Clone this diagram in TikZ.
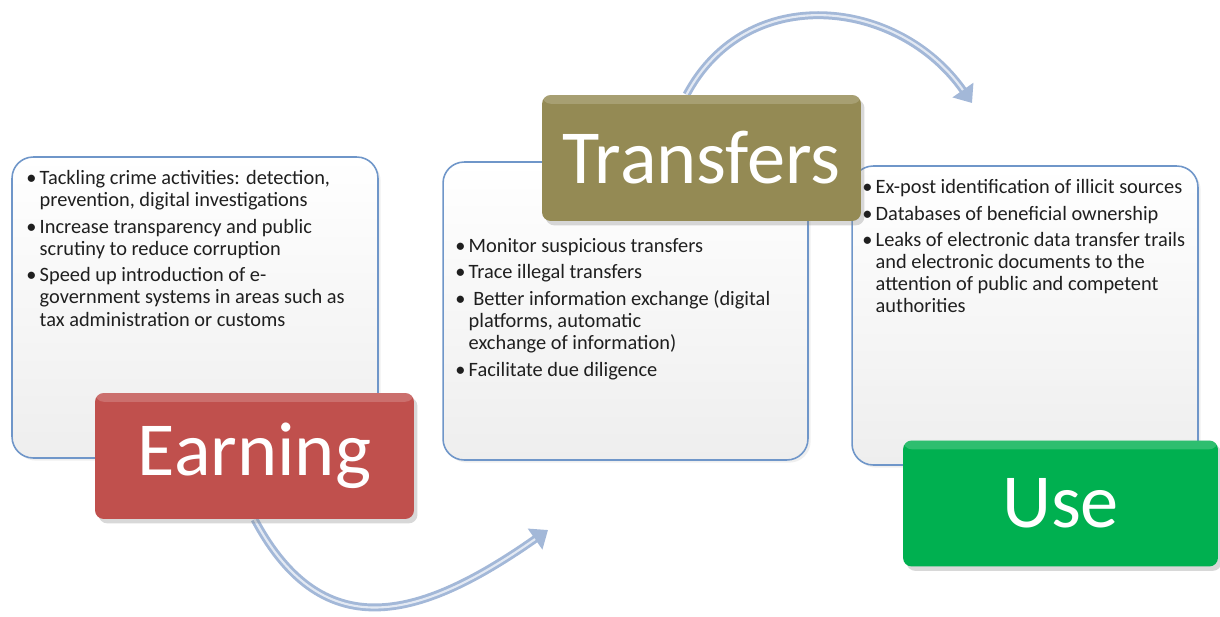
\documentclass[tikz,border=0pt]{standalone}
\usepackage{fontspec}
\setmainfont{Carlito}
\usetikzlibrary{positioning,arrows.meta,shadows,backgrounds}
\definecolor{earnFill}{HTML}{C0504D}
\definecolor{transFill}{HTML}{948A54}
\definecolor{useFill}{HTML}{00B050}
\definecolor{boxBorder}{HTML}{6F96C9}
\definecolor{boxShade}{HTML}{EEEEEE}
\definecolor{arrowBlue}{HTML}{A3B8D8}

% bullet and hanging indent for the point lists
\newcommand{\itm}{\makebox[7.6pt][l]{\textbullet}}
\newcommand{\cnt}{\hspace*{7.6pt}}

\begin{document}
\begin{tikzpicture}[
    x=0.02cm, y=0.02cm,
    infobox/.style={
        rectangle, draw=boxBorder, line width=0.9pt,
        rounded corners=12pt, top color=white, bottom color=boxShade,
        drop shadow={opacity=0.12, shadow xshift=1.5pt, shadow yshift=-1.5pt}
    },
    titlebox/.style={
        rectangle, rounded corners=5pt, text=white,
        minimum width=6.38cm, minimum height=2.52cm,
        font=\fontsize{43.5}{43.5}\selectfont,
        drop shadow={opacity=0.3, shadow xshift=2pt, shadow yshift=-2.5pt},
        path picture={\fill[white, opacity=0.18] (path picture bounding box.north west)
            rectangle ([yshift=-5pt]path picture bounding box.north east);}
    },
    points/.style={
        anchor=north west, inner sep=0pt, align=left,
        text=black!88, font=\fontsize{11.6}{12.6}\selectfont
    },
    loopArrow/.style={
        -{Triangle[length=9pt,width=14pt]}, line width=4.5pt, draw=arrowBlue,
        postaction={draw=white, draw opacity=0.7, line width=1.2pt, -, shorten >=9pt}
    }
]
  \useasboundingbox (0,0) rectangle (1220,-616);

  % Content boxes
  \node[infobox, minimum width=7.32cm, minimum height=6.02cm] (earnBox) at (195,-307.5) {};
  \node[infobox, minimum width=7.30cm, minimum height=5.96cm] (transBox) at (625.5,-311) {};
  \node[infobox, minimum width=6.92cm, minimum height=5.98cm] (useBox) at (1025,-315.5) {};

  % Point lists
  \node[points] (earnText) at (26,-170) {%
    \itm Tackling crime activities: detection,\\
    \cnt prevention, digital investigations\\[2.5pt]
    \itm Increase transparency and public\\
    \cnt scrutiny to reduce corruption\\[2.5pt]
    \itm Speed up introduction of e-\\
    \cnt government systems in areas such as\\
    \cnt tax administration or customs};
  \node[points] (transText) at (455,-238) {%
    \itm Monitor suspicious transfers\\[2.5pt]
    \itm Trace illegal transfers\\[2.5pt]
    \itm\ Better information exchange (digital\\
    \cnt platforms, automatic\\
    \cnt exchange of information)\\[2.5pt]
    \itm Facilitate due diligence};
  \node[points] (useText) at (862,-179) {%
    \itm Ex-post identification of illicit sources\\[2.5pt]
    \itm Databases of beneficial ownership\\[2.5pt]
    \itm Leaks of electronic data transfer trails\\
    \cnt and electronic documents to the\\
    \cnt attention of public and competent\\
    \cnt authorities};

  % Titles
  \node[titlebox, fill=earnFill] (earnTitle) at (254.5,-456) {Earning};
  \node[titlebox, fill=transFill] (transTitle) at (701.5,-158) {Transfers};
  \node[titlebox, fill=useFill, minimum width=6.30cm] (useTitle) at (1060.5,-503.5) {Use};

  % Arrow ends
  \coordinate (transIn) at (548,-530);
  \coordinate (useIn) at (972,-103);

  % Curved arrows, kept behind the titles
  \begin{scope}[on background layer]
    \fill[white] (0,0) rectangle (1220,-616);
    \draw[loopArrow] (earnTitle.south) to[out=-62, in=-145, looseness=1.3] (transIn);
    \draw[loopArrow] ([xshift=-0.3cm]transTitle.north) to[out=62, in=125, looseness=1.15] (useIn);
  \end{scope}

\end{tikzpicture}
\end{document}
